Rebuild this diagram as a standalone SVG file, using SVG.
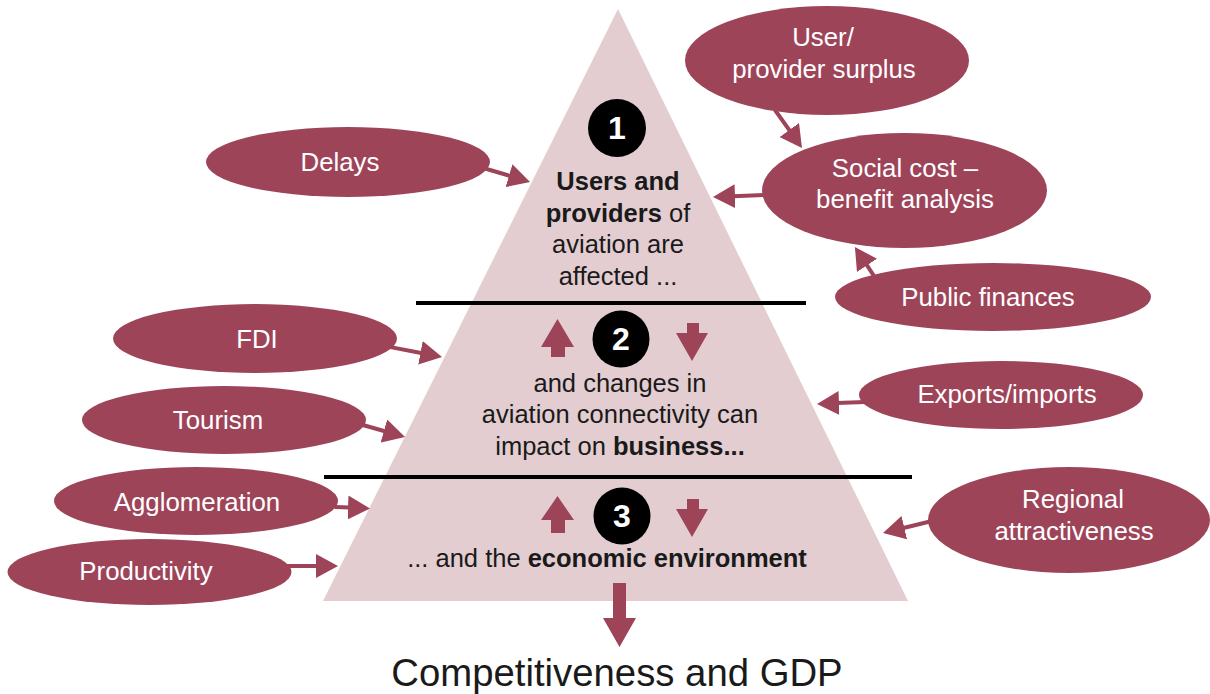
<svg xmlns="http://www.w3.org/2000/svg" width="1210" height="694" viewBox="0 0 1210 694">
<style>
.node{fill:#9e4459}
.nt{font-family:"Liberation Sans",Arial,sans-serif;font-size:25.8px;fill:#ffffff;text-anchor:middle}
.pt{font-family:"Liberation Sans",Arial,sans-serif;font-size:25.5px;fill:#1a1a1a;text-anchor:middle}
.b{font-weight:bold}
.num{font-family:"Liberation Sans",Arial,sans-serif;font-size:32px;font-weight:bold;fill:#ffffff;text-anchor:middle}
.conn{stroke:#9e4459;stroke-width:4;fill:none;marker-end:url(#ah)}
.blk{fill:#9e4459}
</style>
<defs>
<marker id="ah" viewBox="0 0 22 24" refX="2" refY="12" markerWidth="22" markerHeight="24" markerUnits="userSpaceOnUse" orient="auto">
<path d="M0,0 L22,12 L0,24 z" fill="#9e4459"/>
</marker>
</defs>
<rect width="1210" height="694" fill="#ffffff"/>

<g id="pyramid">
<polygon points="618,9 323,601 908,601" fill="#e3cdd1"/>
<line x1="416" y1="303" x2="806" y2="303" stroke="#000" stroke-width="4"/>
<line x1="324" y1="477" x2="912" y2="477" stroke="#000" stroke-width="4"/>
</g>

<g id="level1">
<circle cx="617" cy="128" r="29" fill="#000"/>
<text class="num" x="617" y="139">1</text>
<text class="pt b" x="618" y="190">Users and</text>
<text class="pt" x="618" y="222"><tspan class="b">providers</tspan> of</text>
<text class="pt" x="618" y="253">aviation are</text>
<text class="pt" x="618" y="285">affected ...</text>
</g>

<g id="level2">
<circle cx="621" cy="339" r="28.5" fill="#000"/>
<text class="num" x="621" y="350">2</text>
<polygon class="blk" points="557.5,319 574,347 565,347 565,357 551,357 551,347 541,347"/>
<polygon class="blk" points="687,323 699,323 699,333 708,333 692,361 676,333 687,333"/>
<text class="pt" x="620" y="392">and changes in</text>
<text class="pt" x="620" y="423">aviation connectivity can</text>
<text class="pt" x="620" y="455">impact on <tspan class="b">business...</tspan></text>
</g>

<g id="level3">
<circle cx="622" cy="516" r="28.5" fill="#000"/>
<text class="num" x="622" y="527">3</text>
<polygon class="blk" points="557.5,496 574,520 565,520 565,533 551,533 551,520 541,520"/>
<polygon class="blk" points="687,499 699,499 699,509 708,509 692,537 676,509 687,509"/>
<text class="pt" x="607" y="567">... and the <tspan class="b">economic environment</tspan></text>
</g>

<g id="result">
<polygon class="blk" points="613,583 626,583 626,618 636,618 619.5,647 603,618 613,618"/>
<text x="617" y="686" font-family="Liberation Sans, Arial, sans-serif" font-size="38.3" fill="#1a1a1a" text-anchor="middle">Competitiveness and GDP</text>
</g>

<g id="n-surplus">
<ellipse class="node" cx="827" cy="60.5" rx="142" ry="54.5"/>
<text class="nt" x="823" y="46">User/</text>
<text class="nt" x="824" y="78">provider surplus</text>
</g>
<g id="n-scba">
<ellipse class="node" cx="904.5" cy="190.5" rx="142.5" ry="57.5"/>
<text class="nt" x="905" y="177">Social cost –</text>
<text class="nt" x="905" y="208">benefit analysis</text>
</g>
<g id="n-public">
<ellipse class="node" cx="993" cy="297" rx="158" ry="34"/>
<text class="nt" x="988" y="306">Public finances</text>
</g>
<g id="n-delays">
<ellipse class="node" cx="348" cy="162" rx="142" ry="35"/>
<text class="nt" x="340" y="171">Delays</text>
</g>
<g id="n-fdi">
<ellipse class="node" cx="255" cy="338.5" rx="142" ry="34.5"/>
<text class="nt" x="257" y="348">FDI</text>
</g>
<g id="n-tourism">
<ellipse class="node" cx="224" cy="420" rx="142" ry="34"/>
<text class="nt" x="218" y="429">Tourism</text>
</g>
<g id="n-agglo">
<ellipse class="node" cx="196" cy="501" rx="142" ry="34"/>
<text class="nt" x="197" y="511">Agglomeration</text>
</g>
<g id="n-prod">
<ellipse class="node" cx="149.5" cy="572" rx="142" ry="33"/>
<text class="nt" x="146" y="580">Productivity</text>
</g>
<g id="n-exports">
<ellipse class="node" cx="1001" cy="395" rx="142" ry="34"/>
<text class="nt" x="1007" y="403">Exports/imports</text>
</g>
<g id="n-regional">
<ellipse class="node" cx="1069" cy="520" rx="141" ry="53"/>
<text class="nt" x="1073" y="508">Regional</text>
<text class="nt" x="1074" y="540">attractiveness</text>
</g>

<g id="connectors">
<line class="conn" x1="485" y1="168.5" x2="510.9" y2="176.2"/>
<line class="conn" x1="775" y1="110" x2="790.4" y2="131.7"/>
<line class="conn" x1="764" y1="195" x2="733" y2="196.2"/>
<line class="conn" x1="874" y1="276" x2="865.9" y2="263.7"/>
<line class="conn" x1="388" y1="346.6" x2="422.4" y2="353.2"/>
<line class="conn" x1="361" y1="424.5" x2="385.8" y2="431.5"/>
<line class="conn" x1="335" y1="507" x2="350" y2="507.6"/>
<line class="conn" x1="286" y1="566" x2="318" y2="566"/>
<line class="conn" x1="865" y1="402" x2="837" y2="403.1"/>
<line class="conn" x1="930" y1="521.5" x2="902.4" y2="528.2"/>
</g>
</svg>
